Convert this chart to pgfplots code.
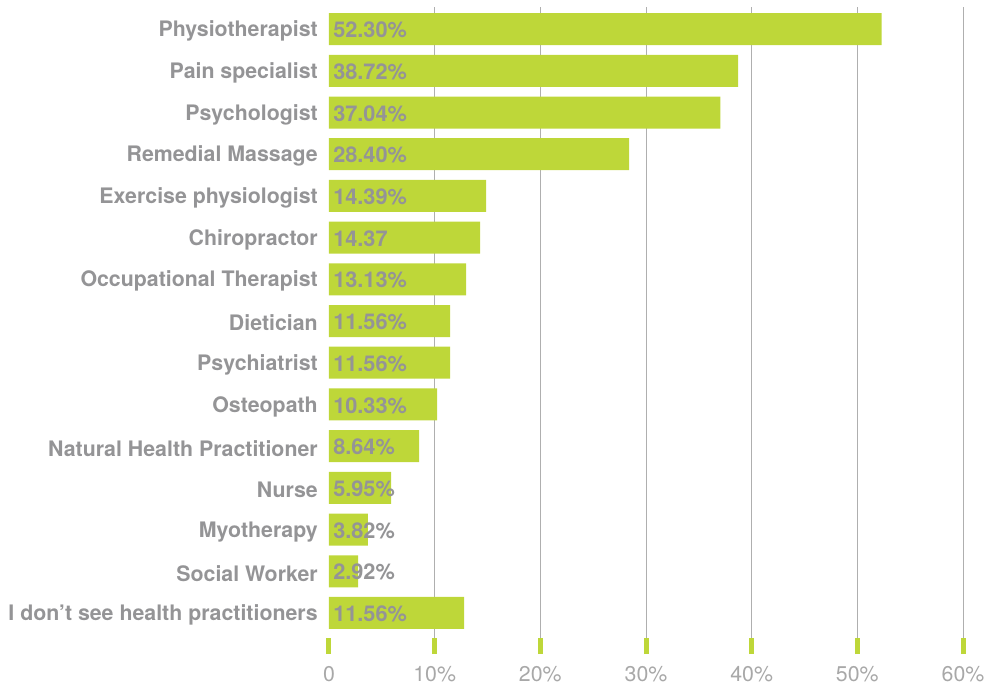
\documentclass[border=0pt]{standalone}
\usepackage{pgfplots}
\pgfplotsset{compat=1.18}
\usepackage{fontspec}
\setmainfont{TeX Gyre Heros}
\definecolor{barg}{RGB}{190,215,57}
\definecolor{labg}{RGB}{148,148,150}
\definecolor{tickg}{RGB}{168,168,168}
\definecolor{gridg}{RGB}{175,175,175}
\begin{document}
\begin{tikzpicture}
\begin{axis}[
  name=ax,
  scale only axis,
  width=475.5pt, height=473.25pt,
  xmin=0, xmax=60, ymin=-0.6, ymax=14.53,
  axis line style={draw=none},
  xtick={0,10,...,60},
  xticklabels={0,10\%,20\%,30\%,40\%,50\%,60\%},
  xtick pos=left,
  tick align=outside,
  major tick length=12pt,
  xtick style={draw=barg, line width=3.75pt},
  ytick={0,...,14},
  yticklabels={I don’t see health practitioners, Social Worker, Myotherapy, Nurse, Natural Health Practitioner, Osteopath, Psychiatrist, Dietician, Occupational Therapist, Chiropractor, Exercise physiologist, Remedial Massage, Psychologist, Pain specialist, Physiotherapist},
  ytick style={draw=none},
  yticklabel style={font=\fontsize{16}{18}\selectfont\bfseries, text=labg, inner sep=0pt, xshift=3.75pt, yshift=-1.5pt},
  xticklabel style={font=\fontsize{16}{18}\selectfont, text=tickg, inner sep=0pt, yshift=-9pt},
  extra x ticks={10,20,...,60},
  extra x tick labels={},
  extra x tick style={grid=major, xtick style={draw=none}, major tick length=0pt},
  major grid style={gridg, line width=0.75pt},
]
\addplot[xbar, bar width=24pt, fill=barg, draw=none] coordinates {
  (52.30,14) (38.72,13) (37.04,12) (28.40,11) (14.87,10) (14.30,9) (12.97,8)
  (11.46,7) (11.46,6) (10.23,5) (8.52,4) (5.87,3) (3.69,2) (2.75,1) (12.78,0)};
\addplot[draw=none, mark=none, nodes near coords, point meta=explicit symbolic,
  nodes near coords style={anchor=west, inner sep=0pt, xshift=3pt, yshift=-0.75pt,
    font=\fontsize{16.3}{18}\selectfont\bfseries, text=labg}] coordinates {
  (0,14) [52.30\%] (0,13) [38.72\%] (0,12) [37.04\%] (0,11) [28.40\%]
  (0,10) [14.39\%] (0,9) [14.37] (0,8) [13.13\%] (0,7) [11.56\%]
  (0,6) [11.56\%] (0,5) [10.33\%] (0,4) [8.64\%] (0,3) [5.95\%]
  (0,2) [3.82\%] (0,1) [2.92\%] (0,0) [11.56\%]};
\end{axis}
\pgfresetboundingbox
\path ([xshift=-246.75pt,yshift=-36pt]ax.south west) rectangle ([xshift=20.25pt,yshift=5.25pt]ax.north east);
\end{tikzpicture}
\end{document}
